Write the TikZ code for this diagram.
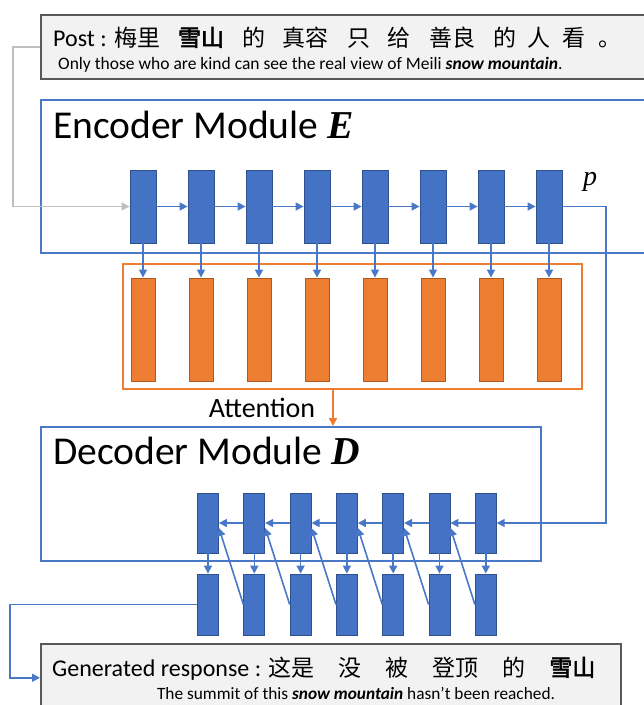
\documentclass[tikz,border=0pt]{standalone}
\usepackage{fontspec}
\setmainfont{Carlito}
\newfontfamily\cjk[AutoFakeBold=2.5]{Noto Sans CJK SC}
\newfontfamily\mser{Liberation Serif}
\usetikzlibrary{arrows.meta,calc}
\definecolor{bl}{HTML}{4472C4}
\definecolor{bldk}{HTML}{2F528F}
\definecolor{blline}{HTML}{4A78C8}
\definecolor{orng}{HTML}{ED7D31}
\definecolor{orngdk}{HTML}{AE5A21}
\definecolor{gbox}{HTML}{F2F2F2}
\definecolor{gline}{HTML}{BFBFBF}
\definecolor{gdk}{HTML}{595959}
\tikzset{
  ecell/.style={draw=bldk, fill=bl, line width=0.8pt, minimum width=26pt, minimum height=73pt, inner sep=0pt},
  dcell/.style={draw=bldk, fill=bl, line width=0.8pt, minimum width=21pt, minimum height=60pt, inner sep=0pt},
  ocell/.style={draw=orngdk, fill=orng, line width=0.8pt, minimum width=24pt, minimum height=103pt, inner sep=0pt},
  modbox/.style={draw=blline, line width=1.8pt, inner sep=0pt, anchor=north west},
  attbox/.style={draw=orng, line width=1.6pt, inner sep=0pt, anchor=north west},
  textbox/.style={draw=gdk, fill=gbox, line width=1.5pt, inner sep=0pt, anchor=north west},
  barrow/.style={draw=blline, line width=1.6pt, -{Triangle[length=8pt,width=8pt]}},
  garrow/.style={draw=gline, line width=1.6pt, -{Triangle[length=8pt,width=8pt]}},
  oarrow/.style={draw=orng, line width=1.6pt, -{Triangle[length=8pt,width=8pt]}},
}
\newcommand{\cg}{\hspace{18pt}}
\newcommand{\cgs}{\hspace{12pt}}
\newcommand{\rg}{\hspace{24pt}}
\begin{document}
\begin{tikzpicture}[x=1pt,y=-1pt]
\useasboundingbox (0,0) rectangle (644,705);
\clip (0,0) rectangle (644,705);

% boxes
\node[textbox, minimum width=640pt, minimum height=64pt] (post) at (40,14) {};
\node[modbox, minimum width=640pt, minimum height=153pt] (enc) at (40,99) {};
\node[attbox, minimum width=459pt, minimum height=125pt] (att) at (122,263) {};
\node[modbox, minimum width=500pt, minimum height=134pt] (dec) at (40,426) {};
\node[textbox, minimum width=580pt, minimum height=68pt] (resp) at (40,643) {};

% texts
\node[anchor=base west, inner sep=0pt, font=\fontsize{24}{28}\selectfont] (posttxt) at (53,46)
  {Post : {\cjk\fontsize{23}{26}\selectfont 梅里\cg{\bfseries 雪山}\cg 的\cg 真容\cg 只\cg 给\cg 善良\cg 的\cgs 人\cgs 看\cgs 。}};
\node[anchor=west, inner sep=0pt, font=\fontsize{17.5}{20}\selectfont] (posten) at (58,65)
  {Only those who are kind can see the real view of Meili \textbf{\textit{snow mountain}}.};
\node[anchor=base west, inner sep=0pt, font=\fontsize{39.5}{44}\selectfont] (enclab) at (53,138)
  {Encoder Module {\mser\bfseries\itshape E}};
\node[anchor=base west, inner sep=0pt, font=\fontsize{39.5}{44}\selectfont] (declab) at (53,464)
  {Decoder Module {\mser\bfseries\itshape D}};
\node[inner sep=0pt, font=\fontsize{28}{32}\selectfont] (attlab) at (262,408) {Attention};
\node[inner sep=0pt, font=\fontsize{28}{30}\selectfont\mser\itshape] (plab) at (590,182) {p};
\node[anchor=base west, inner sep=0pt, font=\fontsize{24}{28}\selectfont] (resptxt) at (52,676)
  {Generated response : {\cjk\fontsize{23}{26}\selectfont 这是\rg 没\rg 被\rg 登顶\rg 的\rg{\bfseries 雪山}}};
\node[inner sep=0pt, font=\fontsize{17.3}{20}\selectfont] (respen) at (356,693)
  {The summit of this \textbf{\textit{snow mountain}} hasn’t been reached.};

% encoder and attention cells
\foreach \i in {1,...,8} {
  \node[ecell] (e\i) at ({143+58*(\i-1)},206.5) {};
  \node[ocell] (o\i) at ({143+58*(\i-1)},329.5) {};
}
% decoder cells
\foreach \i in {1,...,7} {
  \node[dcell] (d\i) at ({208+46.3*(\i-1)},523) {};
  \node[dcell, minimum height=61pt] (b\i) at ({208+46.3*(\i-1)},604.5) {};
}

% connectors
\draw[garrow] (post.west) -- ++(-27,0) |- (e1.west);
\foreach \i [evaluate=\i as \j using int(\i+1)] in {1,...,7}
  \draw[barrow] (e\i.east) -- (e\j.west);
\foreach \i in {1,...,8}
  \draw[barrow] (e\i.south) -- (o\i.north);
\coordinate (turn) at (606,523);
\draw[barrow] (e8.east) -| (turn) -- (d7.east);
\foreach \i [evaluate=\i as \j using int(\i+1)] in {1,...,6} {
  \draw[barrow] (d\j.west) -- (d\i.east);
  \draw[barrow] (b\j.west) -- ([yshift=-5pt]d\i.east);
}
\foreach \i in {1,...,7}
  \draw[barrow] (d\i.south) -- (b\i.north);
\coordinate (attout) at (333,388);
\draw[oarrow] (attout) -- (attout |- dec.north);
\draw[barrow] (b1.west) -- ++(-187,0) |- (resp.west);
\end{tikzpicture}
\end{document}
